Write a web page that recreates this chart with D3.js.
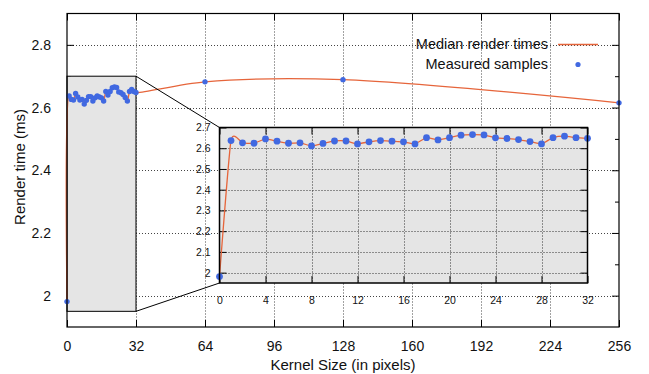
<!DOCTYPE html>
<html>
<head>
<meta charset="utf-8">
<script src="https://cdn.jsdelivr.net/npm/d3@7"></script>
<style>
  body { margin: 0; background: #fff; }
  svg { display: block; font-family: "Liberation Sans", Arial, sans-serif; }
</style>
</head>
<body>
<div id="chart"></div>
<script>
// measured kernel sizes (px) and median render times (ms)
const kernelSizes = [0, 1, 2, 3, 4, 5, 6, 7, 8, 9, 10, 11, 12, 13, 14, 15, 16,
  17, 18, 19, 20, 21, 22, 23, 24, 25, 26, 27, 28, 29, 30, 31, 32, 64, 128, 256];
const renderTimes = [1.981, 2.637, 2.626, 2.624, 2.645, 2.634, 2.624, 2.626, 2.611,
  2.623, 2.635, 2.635, 2.621, 2.631, 2.637, 2.634, 2.631, 2.621, 2.651, 2.640,
  2.651, 2.663, 2.666, 2.664, 2.650, 2.647, 2.642, 2.632, 2.621, 2.651, 2.658,
  2.651, 2.648, 2.682, 2.689, 2.615];

const xTicks = [0, 32, 64, 96, 128, 160, 192, 224, 256];
const yTicks = [2.0, 2.2, 2.4, 2.6, 2.8];
const yMinorTicks = [2.1, 2.3, 2.5, 2.7];
const insetXTicks = [0, 4, 8, 12, 16, 20, 24, 28, 32];
const insetYTicks = [2.0, 2.1, 2.2, 2.3, 2.4, 2.5, 2.6, 2.7];
const zoomX = [0, 32];
const zoomY = [1.95, 2.7];

const data = kernelSizes.map((k, i) => ({ k: k, t: renderTimes[i] }));
const insetData = data.filter(d => d.k <= 32);

const width = 649, height = 374;
const lineColor = '#e6653b', dotColor = '#4169e1', boxFill = '#e5e5e5';

const svg = d3.select('#chart').append('svg')
  .attr('width', width)
  .attr('height', height);

// main plot
const plot = { left: 67, right: 619, top: 13.5, bottom: 327 };
const x = d3.scaleLinear().domain([0, 256]).range([plot.left, plot.right]);
const y = d3.scaleLinear().domain([1.9, 2.9]).range([plot.bottom, plot.top]);

// dotted grid
const grid = svg.append('g')
  .attr('stroke', '#444')
  .attr('stroke-width', 1)
  .attr('stroke-dasharray', '1,2');
grid.selectAll('.gy').data(yTicks).enter().append('line')
  .attr('x1', plot.left).attr('x2', plot.right)
  .attr('y1', d => Math.round(y(d)) + 0.5).attr('y2', d => Math.round(y(d)) + 0.5);
grid.selectAll('.gx').data(xTicks.slice(1, -1)).enter().append('line')
  .attr('y1', plot.top).attr('y2', plot.bottom)
  .attr('x1', d => Math.round(x(d)) + 0.5).attr('x2', d => Math.round(x(d)) + 0.5);

// axes with inward ticks, mirrored on all sides
const axisStyle = g => {
  g.select('.domain').remove();
  g.selectAll('.tick line').attr('stroke', '#000');
  g.selectAll('.tick text').attr('fill', '#111');
};
svg.append('g')
  .attr('transform', `translate(0,${plot.bottom})`)
  .call(d3.axisBottom(x).tickValues(xTicks).tickSize(-7).tickPadding(14).tickFormat(d3.format('d')))
  .call(axisStyle)
  .attr('font-size', 14);
svg.append('g')
  .attr('transform', `translate(0,${plot.top})`)
  .call(d3.axisTop(x).tickValues(xTicks).tickSize(-7).tickFormat(''))
  .call(axisStyle);
svg.append('g')
  .attr('transform', `translate(${plot.left},0)`)
  .call(d3.axisLeft(y).tickValues(yTicks).tickSize(-7).tickPadding(16).tickFormat(d3.format('')))
  .call(axisStyle)
  .attr('font-size', 14);
svg.append('g')
  .attr('transform', `translate(${plot.right},0)`)
  .call(d3.axisRight(y).tickValues(yTicks).tickSize(-7).tickFormat(''))
  .call(axisStyle);
svg.append('g')
  .attr('transform', `translate(${plot.left},0)`)
  .call(d3.axisLeft(y).tickValues(yMinorTicks).tickSize(-4).tickFormat(''))
  .call(axisStyle);
svg.append('g')
  .attr('transform', `translate(${plot.right},0)`)
  .call(d3.axisRight(y).tickValues(yMinorTicks).tickSize(-4).tickFormat(''))
  .call(axisStyle);

// zoom region box
svg.append('rect')
  .attr('x', x(zoomX[0])).attr('y', y(zoomY[1]))
  .attr('width', x(zoomX[1]) - x(zoomX[0]))
  .attr('height', y(zoomY[0]) - y(zoomY[1]))
  .attr('fill', boxFill).attr('stroke', '#000').attr('stroke-width', 1);

// median line + samples
const line = d3.line()
  .x(d => x(d.k)).y(d => y(d.t))
  .curve(d3.curveCatmullRom.alpha(0.5));
svg.append('path').datum(data)
  .attr('d', line)
  .attr('fill', 'none').attr('stroke', lineColor).attr('stroke-width', 1.3);
svg.append('g').selectAll('circle').data(data).enter().append('circle')
  .attr('cx', d => x(d.k)).attr('cy', d => y(d.t)).attr('r', 2.7)
  .attr('fill', dotColor);

// plot border
svg.append('rect')
  .attr('x', plot.left).attr('y', plot.top)
  .attr('width', plot.right - plot.left).attr('height', plot.bottom - plot.top)
  .attr('fill', 'none').attr('stroke', '#000').attr('stroke-width', 1.2);

// axis titles
svg.append('text')
  .attr('x', (plot.left + plot.right) / 2).attr('y', 370)
  .attr('text-anchor', 'middle').attr('font-size', 15).attr('fill', '#111')
  .text('Kernel Size (in pixels)');
svg.append('text')
  .attr('transform', 'translate(25,167) rotate(-90)')
  .attr('text-anchor', 'middle').attr('font-size', 15).attr('fill', '#111')
  .text('Render time (ms)');

// legend
const legend = svg.append('g').attr('font-size', 14.5).attr('fill', '#111');
legend.append('text').attr('x', 548).attr('y', 49).attr('text-anchor', 'end')
  .text('Median render times');
legend.append('line').attr('x1', 558).attr('x2', 598).attr('y1', 44.5).attr('y2', 44.5)
  .attr('stroke', lineColor).attr('stroke-width', 1.3);
legend.append('text').attr('x', 548).attr('y', 69).attr('text-anchor', 'end')
  .text('Measured samples');
legend.append('circle').attr('cx', 578).attr('cy', 64.5).attr('r', 2.6).attr('fill', dotColor);

// inset
const inset = { left: 219.5, right: 587.5, top: 127.5, bottom: 283 };
const xi = d3.scaleLinear().domain(zoomX).range([inset.left, inset.right]);
const yi = d3.scaleLinear().domain(zoomY).range([inset.bottom, inset.top]);

// connector lines from zoom box to inset
svg.append('line')
  .attr('x1', x(zoomX[1])).attr('y1', y(zoomY[1]))
  .attr('x2', inset.left).attr('y2', inset.top)
  .attr('stroke', '#000').attr('stroke-width', 1);
svg.append('line')
  .attr('x1', x(zoomX[1])).attr('y1', y(zoomY[0]))
  .attr('x2', inset.left).attr('y2', inset.bottom)
  .attr('stroke', '#000').attr('stroke-width', 1);

svg.append('rect')
  .attr('x', inset.left).attr('y', inset.top)
  .attr('width', inset.right - inset.left).attr('height', inset.bottom - inset.top)
  .attr('fill', boxFill);

const igrid = svg.append('g')
  .attr('stroke', '#333')
  .attr('stroke-width', 1)
  .attr('stroke-dasharray', '1,2');
igrid.selectAll('line.h').data(insetYTicks.slice(0, -1)).enter().append('line')
  .attr('x1', inset.left).attr('x2', inset.right)
  .attr('y1', d => Math.round(yi(d)) + 0.5).attr('y2', d => Math.round(yi(d)) + 0.5);
igrid.selectAll('line.v').data(insetXTicks.slice(1, -1)).enter().append('line')
  .attr('y1', inset.top).attr('y2', inset.bottom)
  .attr('x1', d => Math.round(xi(d)) + 0.5).attr('x2', d => Math.round(xi(d)) + 0.5);

svg.append('g')
  .attr('transform', `translate(0,${inset.bottom})`)
  .call(d3.axisBottom(xi).tickValues(insetXTicks).tickSize(-7).tickPadding(14).tickFormat(d3.format('d')))
  .call(axisStyle)
  .attr('font-size', 10.5);
svg.append('g')
  .attr('transform', `translate(0,${inset.top})`)
  .call(d3.axisTop(xi).tickValues(insetXTicks).tickSize(-7).tickFormat(''))
  .call(axisStyle);
svg.append('g')
  .attr('transform', `translate(${inset.left},0)`)
  .call(d3.axisLeft(yi).tickValues(insetYTicks).tickSize(-7).tickPadding(9).tickFormat(d3.format('')))
  .call(axisStyle)
  .attr('font-size', 10.5);
svg.append('g')
  .attr('transform', `translate(${inset.right},0)`)
  .call(d3.axisRight(yi).tickValues(insetYTicks).tickSize(-7).tickFormat(''))
  .call(axisStyle);

const iline = d3.line()
  .x(d => xi(d.k)).y(d => yi(d.t))
  .curve(d3.curveCardinal.tension(0.5));
svg.append('path').datum(insetData)
  .attr('d', iline)
  .attr('fill', 'none').attr('stroke', lineColor).attr('stroke-width', 1.3);
svg.append('g').selectAll('circle').data(insetData).enter().append('circle')
  .attr('cx', d => xi(d.k)).attr('cy', d => yi(d.t)).attr('r', 3.4)
  .attr('fill', dotColor);

svg.append('rect')
  .attr('x', inset.left).attr('y', inset.top)
  .attr('width', inset.right - inset.left).attr('height', inset.bottom - inset.top)
  .attr('fill', 'none').attr('stroke', '#000').attr('stroke-width', 1.5);
</script>
</body>
</html>
